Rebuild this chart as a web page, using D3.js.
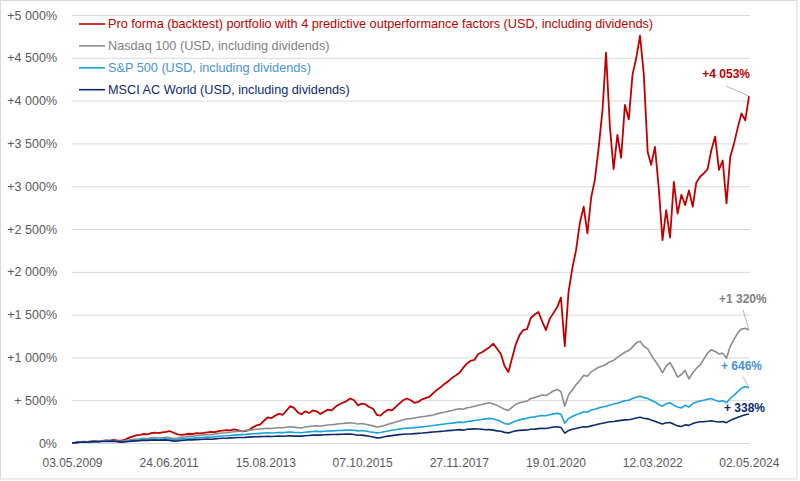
<!DOCTYPE html>
<html>
<head>
<meta charset="utf-8">
<script src="https://cdn.jsdelivr.net/npm/d3@7"></script>
<style>
  body { margin: 0; background: #fff; }
  svg text { font-family: "Liberation Sans", Arial, sans-serif; }
</style>
</head>
<body>
<svg id="chart"></svg>
<script>
// monthly points, first one on 03.05.2009
const startDate = new Date(2009, 4, 3);

const seriesNames = [
  "Pro forma (backtest) portfolio with 4 predictive outperformance factors (USD, including dividends)",
  "Nasdaq 100 (USD, including dividends)",
  "S&P 500 (USD, including dividends)",
  "MSCI AC World (USD, including dividends)"
];

const proForma = [
  0, 4, 10, 15, 12, 18, 22, 20, 25, 30, 28, 35,
  30, 28, 35, 60, 75, 90, 95, 105, 100, 115, 120, 115,
  125, 130, 140, 120, 100, 95, 100, 108, 105, 115, 112, 118,
  125, 130, 128, 140, 145, 150, 148, 160, 150, 135, 140, 150,
  180, 205, 215, 260, 300, 290, 320, 340, 330, 380, 430, 410,
  360, 335, 370, 350, 380, 370, 340, 365, 390, 380, 420, 450,
  470, 490, 520, 500, 440, 460, 450, 420, 400, 330, 320, 360,
  390, 380, 420, 460, 500, 520, 500, 470, 480, 510, 525, 540,
  580, 620, 650, 690, 720, 760, 790, 820, 880, 930, 960, 970,
  1040, 1060, 1090, 1120, 1160, 1100, 1040, 900, 830, 1000, 1150, 1260,
  1320, 1330, 1460, 1500, 1530, 1420, 1320, 1450, 1520, 1590, 1700, 1130,
  1760, 2040, 2250, 2570, 2760, 2450, 2870, 3080, 3460, 3900, 4560, 3700,
  3200, 3600, 3330, 3950, 3780, 4300, 4500, 4760, 4300, 3400, 3250, 3460,
  2990, 2370, 2720, 2400, 3050, 2680, 2900, 2780, 2950, 2760, 3040, 3110,
  3150, 3200, 3420, 3580, 3190, 3300, 2800, 3340, 3500, 3690, 3850, 3770,
  4053
];

const nasdaq100 = [
  0, 4, 9, 14, 11, 17, 21, 19, 24, 28, 25, 30,
  24, 20, 25, 34, 40, 46, 50, 56, 52, 60, 64, 58,
  62, 66, 60, 52, 58, 66, 74, 80, 78, 86, 90, 95,
  100, 98, 106, 112, 116, 120, 126, 132, 136, 140, 145, 150,
  155, 160, 164, 168, 172, 170, 176, 180, 178, 184, 190, 185,
  180, 176, 186, 192, 198, 200, 196, 205, 210, 214, 218, 224,
  228, 232, 236, 230, 222, 228, 220, 210, 200, 186, 192, 205,
  220, 232, 246, 258, 272, 280, 285, 292, 300, 306, 312, 320,
  328, 340, 352, 360, 372, 380, 392, 400, 395, 412, 418, 430,
  440, 450, 462, 470, 455, 440, 416, 395, 380, 420, 450, 470,
  480, 490, 520, 530, 545, 560, 555, 580, 610, 625, 600, 430,
  560, 620, 680, 730, 790, 780, 830, 860, 885, 900, 920, 950,
  965, 1000, 1030, 1060, 1080, 1120, 1170, 1190, 1130, 1100, 1030, 960,
  900, 820, 900, 940, 860, 770, 800, 850, 750, 820, 870, 910,
  980, 1050, 1090, 1070, 1040, 1050, 990, 1130, 1210, 1290, 1330, 1340,
  1320
];

const sp500 = [
  0, 4, 8, 12, 10, 14, 18, 16, 20, 24, 22, 26,
  20, 15, 18, 24, 28, 32, 36, 40, 38, 44, 46, 42,
  45, 48, 44, 36, 40, 46, 52, 56, 55, 60, 64, 66,
  70, 68, 74, 78, 82, 84, 88, 92, 95, 98, 100, 104,
  108, 110, 113, 116, 118, 116, 120, 123, 121, 125, 128, 124,
  122, 120, 126, 130, 134, 136, 133, 138, 140, 142, 144, 146,
  148, 150, 152, 148, 142, 146, 140, 132, 126, 118, 122, 132,
  140, 148, 155, 162, 170, 174, 176, 180, 184, 188, 192, 198,
  204, 210, 216, 222, 228, 232, 238, 244, 240, 252, 256, 262,
  268, 274, 282, 288, 280, 268, 250, 228, 218, 240, 258, 270,
  282, 288, 300, 305, 315, 322, 318, 330, 340, 346, 335, 232,
  285, 310, 330, 345, 365, 360, 385, 395, 410, 420, 430, 445,
  455, 465, 480, 495, 500, 520, 535, 545, 530, 520, 500, 480,
  450, 430, 460, 470, 440, 420, 410, 440, 420, 460, 480, 490,
  500, 510, 520, 500, 485, 495, 470, 520, 560, 600, 640, 660,
  646
];

const msciAcwi = [
  0, 4, 8, 11, 9, 13, 16, 14, 18, 21, 19, 22,
  16, 10, 12, 18, 22, 25, 28, 32, 30, 34, 35, 32,
  34, 36, 30, 22, 25, 30, 34, 38, 36, 40, 42, 44,
  46, 44, 48, 52, 55, 56, 60, 62, 64, 65, 66, 69,
  72, 73, 75, 76, 78, 76, 79, 80, 79, 82, 84, 80,
  82, 80, 84, 88, 92, 94, 92, 96, 98, 100, 100, 101,
  102, 104, 104, 99, 90, 92, 86, 78, 70, 60, 62, 72,
  80, 86, 92, 98, 102, 105, 106, 110, 113, 116, 120, 124,
  128, 132, 136, 140, 145, 148, 152, 156, 150, 160, 162, 165,
  164, 160, 154, 156, 150, 142, 138, 124, 118, 132, 142, 148,
  150, 152, 160, 162, 168, 172, 170, 178, 186, 190, 182, 115,
  145, 160, 170, 180, 190, 186, 200, 210, 222, 230, 240, 248,
  252, 258, 264, 270, 272, 280, 292, 300, 290, 282, 268, 254,
  236, 222, 236, 240, 218, 200, 192, 212, 206, 228, 240, 248,
  250, 254, 260, 252, 246, 250, 238, 264, 282, 300, 315, 330,
  338
];

const endLabels = ["+4 053%", "+1 320%", "+ 646%", "+ 338%"];

const xTickLabels = ["03.05.2009", "24.06.2011", "15.08.2013", "07.10.2015",
  "27.11.2017", "19.01.2020", "12.03.2022", "02.05.2024"];
const yTicks = [0, 500, 1000, 1500, 2000, 2500, 3000, 3500, 4000, 4500, 5000];
const yTickLabels = ["0%", "+ 500%", "+1 000%", "+1 500%", "+2 000%", "+2 500%",
  "+3 000%", "+3 500%", "+4 000%", "+4 500%", "+5 000%"];

const width = 800, height = 481;
const plotLeft = 72, plotRight = 750, plotTop = 15, plotBottom = 443;

const lineColors = ["#c00000", "#8c8c8c", "#19a2dc", "#0f2a6b"];
const textColors = ["#c00000", "#808080", "#4a92da", "#0f2a6b"];

const parseTick = d3.timeParse("%d.%m.%Y");
const dates = proForma.map((_, i) => d3.timeMonth.offset(startDate, i));
const allSeries = [proForma, nasdaq100, sp500, msciAcwi];

const svg = d3.select("#chart").attr("width", width).attr("height", height);

// chart border
svg.append("rect")
  .attr("x", 0.5).attr("y", 0.5)
  .attr("width", 796.5).attr("height", 478.5)
  .attr("fill", "#fff").attr("stroke", "#d9d9d9");

const x = d3.scaleTime()
  .domain([startDate, d3.timeMonth.offset(startDate, 180)])
  .range([plotLeft, 749]);
const y = d3.scaleLinear().domain([0, 5000]).range([plotBottom, plotTop]);

// y axis + gridlines
const yAxis = svg.append("g")
  .attr("transform", `translate(${plotLeft},0)`)
  .call(d3.axisLeft(y)
    .tickValues(yTicks)
    .tickFormat((d, i) => yTickLabels[i])
    .tickSize(-(plotRight - plotLeft))
    .tickPadding(15));
yAxis.select(".domain").remove();
yAxis.selectAll(".tick line").attr("stroke", "#d9d9d9");
yAxis.selectAll("text").attr("fill", "#595959").style("font-size", "12.5px");

// x axis
const xAxis = svg.append("g")
  .attr("transform", `translate(0,${plotBottom})`)
  .call(d3.axisBottom(x)
    .tickValues(xTickLabels.map(parseTick))
    .tickFormat((d, i) => xTickLabels[i])
    .tickSize(0)
    .tickPadding(15));
xAxis.select(".domain").remove();
xAxis.selectAll("text").attr("fill", "#595959").style("font-size", "12px");

// lines
const line = d3.line()
  .x((d, i) => x(dates[i]))
  .y(d => y(d));

allSeries.forEach((s, k) => {
  svg.append("path")
    .datum(s)
    .attr("fill", "none")
    .attr("stroke", lineColors[k])
    .attr("stroke-width", k === 0 ? 1.8 : 1.6)
    .attr("stroke-linejoin", "round")
    .attr("d", line);
});

// legend
const legend = svg.append("g");
seriesNames.forEach((name, k) => {
  const ly = 24 + k * 21.9;
  legend.append("line")
    .attr("x1", 79).attr("x2", 105)
    .attr("y1", ly).attr("y2", ly)
    .attr("stroke", lineColors[k]).attr("stroke-width", 1.6);
  legend.append("text")
    .attr("x", 108).attr("y", ly)
    .attr("dy", "0.35em")
    .attr("fill", textColors[k])
    .style("font-size", "12.7px")
    .text(name);
});

// end labels with leader lines (offsets from last point)
const lastDate = dates[dates.length - 1];
const labelOffsets = [[1, -18, "end"], [-30, -27, "start"], [-28, -17.5, "start"], [-25, -2.5, "start"]];
const leaderOffsets = [[-23, -10], [-6, -20], [-6, -11], null];

allSeries.forEach((s, k) => {
  const px = x(lastDate), py = y(s[s.length - 1]);
  if (leaderOffsets[k]) {
    svg.append("line")
      .attr("x1", px + leaderOffsets[k][0]).attr("y1", py + leaderOffsets[k][1])
      .attr("x2", px).attr("y2", py)
      .attr("stroke", "#a6a6a6").attr("stroke-width", 0.8);
  }
  svg.append("text")
    .attr("x", px + labelOffsets[k][0])
    .attr("y", py + labelOffsets[k][1])
    .attr("text-anchor", labelOffsets[k][2])
    .attr("fill", textColors[k])
    .style("font-size", "12px")
    .style("font-weight", "bold")
    .text(endLabels[k]);
});
</script>
</body>
</html>
